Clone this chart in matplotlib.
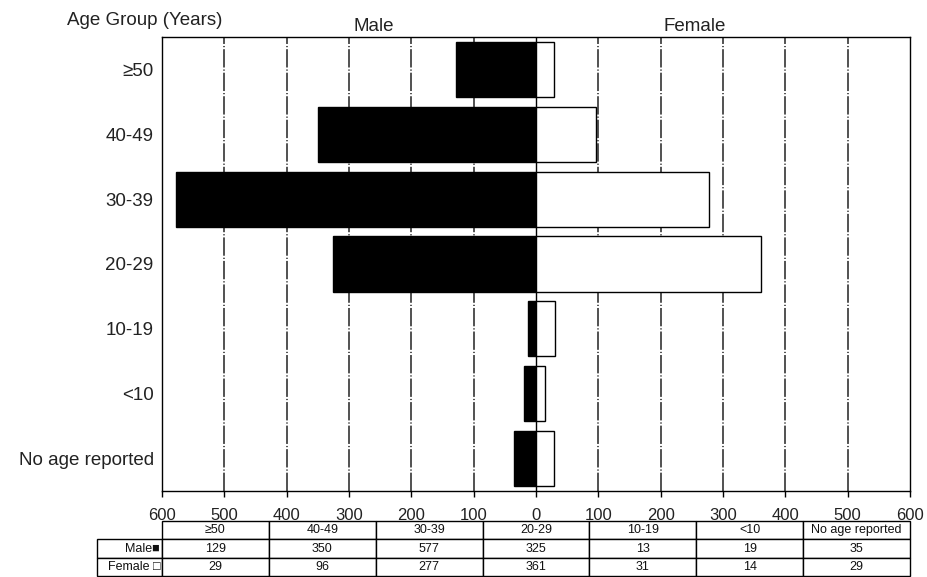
import matplotlib
matplotlib.use("Agg")
import matplotlib.pyplot as plt
import matplotlib.transforms as mtransforms
from matplotlib.table import Table
import numpy as np

plt.rcParams['font.family'] = ['Liberation Sans', 'DejaVu Sans']

categories = ['≥50', '40-49', '30-39', '20-29', '10-19', '<10', 'No age reported']
male = [129, 350, 577, 325, 13, 19, 35]
female = [29, 96, 277, 361, 31, 14, 29]
xticks = [-600, -500, -400, -300, -200, -100, 0, 100, 200, 300, 400, 500, 600]
row_labels = ['Male■', 'Female □']

fig = plt.figure(figsize=(9.27, 5.77), dpi=100)
ax = fig.add_axes([162/927, 86/577, 748/927, 454/577])

y = np.arange(len(categories))

# gridlines behind the bars
for xt in xticks:
    if xt == 0:
        ax.axvline(0, color='black', lw=1.0, zorder=1)
    elif abs(xt) < 600:
        ax.axvline(xt, color='#222222', lw=1.1, zorder=0,
                   linestyle=(0, (12, 1.3, 0.8, 1.3)))

ax.barh(y, [-m for m in male], height=0.85, color='black', edgecolor='black', lw=1.0, zorder=2)
ax.barh(y, female, height=0.85, color='white', edgecolor='black', lw=1.0, zorder=2)

ax.set_xlim(-600, 600)
ax.set_ylim(6.5, -0.5)
ax.set_xticks(xticks)
ax.set_xticklabels([str(abs(v)) for v in xticks], fontsize=12, color='#222222')
ax.set_yticks(y)
ax.set_yticklabels(categories, fontsize=13.5, color='#222222')
ax.tick_params(axis='y', length=0, pad=6)
ax.tick_params(axis='x', length=4, width=1, pad=8, direction='out')
for s in ax.spines.values():
    s.set_linewidth(1.0)
    s.set_color('black')

trans = mtransforms.blended_transform_factory(ax.transData, ax.transAxes)
ax.text(-260, 1.024, 'Male', transform=trans, ha='center', va='center', fontsize=13.5, color='#222222')
ax.text(255, 1.024, 'Female', transform=trans, ha='center', va='center', fontsize=13.5, color='#222222')
ax.text(-0.0227, 1.037, 'Age Group (Years)', transform=ax.transAxes, ha='center', va='center',
        fontsize=13.5, color='#222222')

# data table (bbox covers the data columns; row labels sit to the left)
tbl = Table(ax, bbox=[0, -85/454, 1, 55/454])
cw = 1/7
lw_ = 65/748
rh = 1/3
for j, cat in enumerate(categories):
    tbl.add_cell(0, j, cw, rh, text=cat, loc='center')
for i, (lab, vals) in enumerate(zip(row_labels, [male, female]), start=1):
    tbl.add_cell(i, -1, lw_, rh, text=lab, loc='right')
    for j, v in enumerate(vals):
        tbl.add_cell(i, j, cw, rh, text=str(v), loc='center')
tbl.auto_set_font_size(False)
tbl.set_fontsize(9)
for (r, c), cell in tbl.get_celld().items():
    cell.set_linewidth(1.0)
    cell.set_edgecolor('black')
    cell.PAD = 0.03
    cell.get_text().set_color('#111111')
ax.add_table(tbl)

fig.savefig('out.png', dpi=100)
